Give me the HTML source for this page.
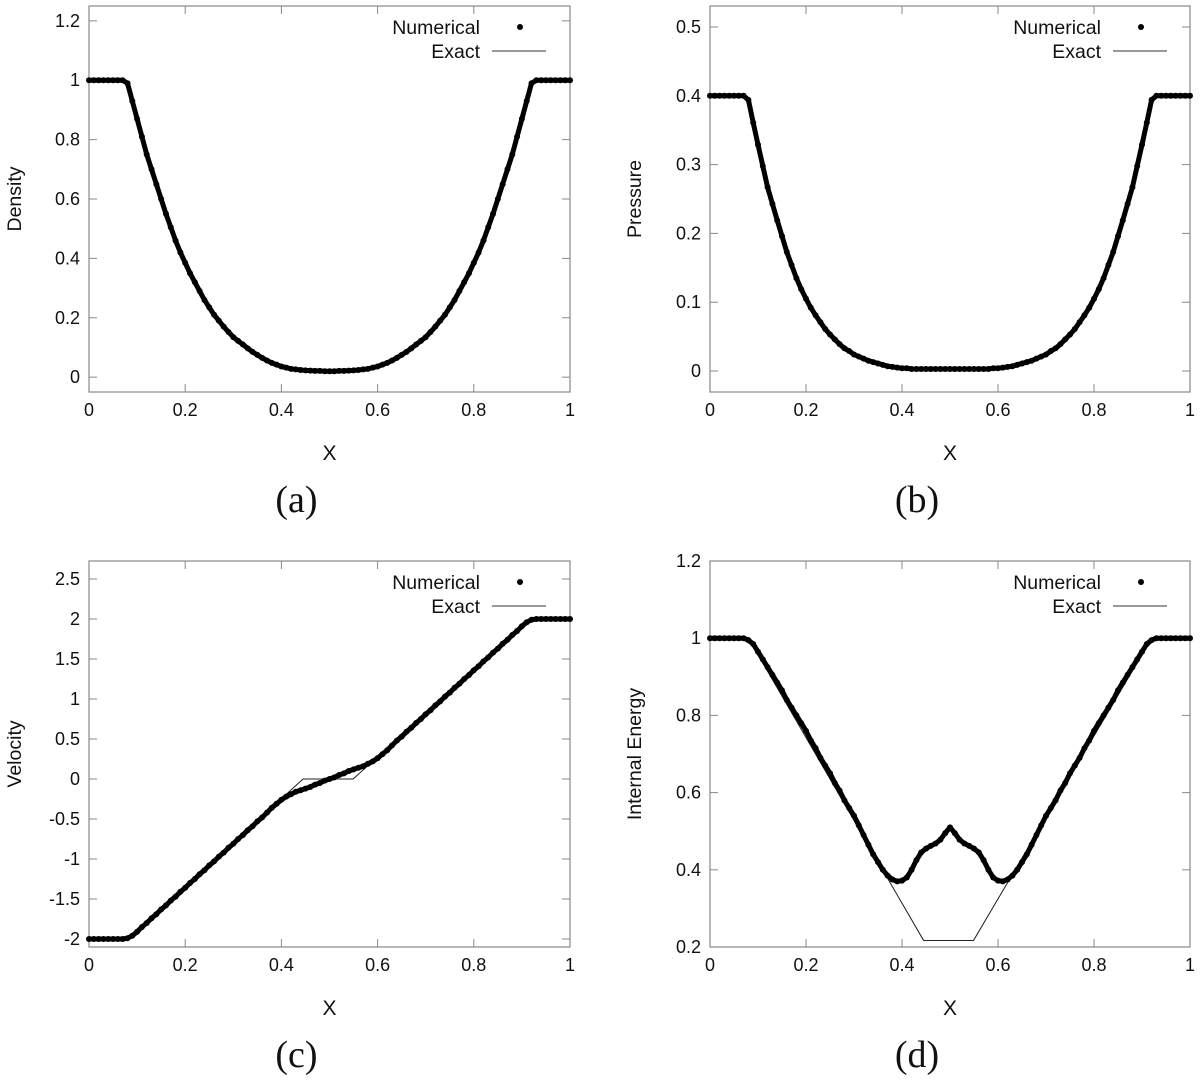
<!DOCTYPE html>
<html><head><meta charset="utf-8"><style>
body{margin:0;background:#fff;}
svg{display:block;font-family:"Liberation Sans","DejaVu Sans",sans-serif;}
</style></head><body>
<svg id="fig" width="1200" height="1092" viewBox="0 0 1200 1092" xmlns="http://www.w3.org/2000/svg"></svg>
<script>
const xGrid = [];
for (let i = 0; i <= 100; i++) xGrid.push(i / 100);
const densityValues = [1,1,1,1,1,1,1,1,
.99,.93,.87,.81,.75,.70,.65,.60,.55,.505,.46,.42,.385,.35,.32,.29,.26,.235,.21,.19,.17,.152,.135,.122,.11,.097,.085,.075,.065,.056,.048,.042,.036,.032,.028,.026,.024,.023,.022,.021,.021,.02,.02,
.02,.021,.021,.022,.023,.024,.026,.028,.032,.036,.042,.048,.056,.065,.075,.085,.097,.11,.122,.135,.152,.17,.19,.21,.235,.26,.29,.32,.35,.385,.42,.46,.505,.55,.60,.65,.70,.75,.81,.87,.93,.99,
1,1,1,1,1,1,1,1];
const pressureValues = [.4,.4,.4,.4,.4,.4,.4,.4,
.394,.361,.329,.298,.267,.243,.219,.196,.173,.154,.135,.119,.105,.092,.081,.071,.061,.053,.046,.039,.033,.029,.024,.021,.018,.015,.013,.011,.009,.007,.006,.005,.004,.004,.003,.003,.003,.003,.003,.003,.003,.003,.003,
.003,.003,.003,.003,.003,.003,.003,.003,.004,.004,.005,.006,.007,.009,.011,.013,.015,.018,.021,.024,.029,.033,.039,.046,.053,.061,.071,.081,.092,.105,.119,.135,.154,.173,.196,.219,.243,.267,.298,.329,.361,.394,
.4,.4,.4,.4,.4,.4,.4,.4];
const velocityValues = [-2,-2,-2,-2,-2,-2,-2,-2,
-1.99,-1.96,-1.91,-1.85,-1.80,-1.74,-1.69,-1.63,-1.58,-1.52,-1.47,-1.41,-1.36,-1.30,-1.25,-1.19,-1.14,-1.08,-1.03,-0.97,-0.92,-0.86,-0.81,-0.75,-0.70,-0.64,-0.59,-0.53,-0.48,-0.42,-0.36,-0.31,-0.26,-0.22,-0.19,-0.16,-0.14,-0.12,-0.10,-0.07,-0.05,-0.02,0,
0.02,0.05,0.07,0.10,0.12,0.14,0.16,0.19,0.22,0.26,0.31,0.36,0.42,0.48,0.53,0.59,0.64,0.70,0.75,0.81,0.86,0.92,0.97,1.03,1.08,1.14,1.19,1.25,1.30,1.36,1.41,1.47,1.52,1.58,1.63,1.69,1.74,1.80,1.85,1.91,1.96,1.99,
2,2,2,2,2,2,2,2];
const energyValues = [1,1,1,1,1,1,1,1,
.995,.985,.965,.945,.925,.905,.885,.865,.84,.82,.80,.78,.76,.735,.715,.69,.67,.65,.625,.605,.58,.56,.54,.515,.49,.465,.44,.42,.40,.385,.375,.37,.372,.38,.40,.425,.445,.455,.462,.468,.478,.495,.51,
.495,.478,.468,.462,.455,.445,.425,.40,.38,.372,.37,.375,.385,.40,.42,.44,.465,.49,.515,.54,.56,.58,.605,.625,.65,.67,.69,.715,.735,.76,.78,.80,.82,.84,.865,.885,.905,.925,.945,.965,.985,.995,
1,1,1,1,1,1,1,1];
const exactVX = [0,0.08,0.445,0.549,0.92,1];
const exactVY = [-2,-2,0,0,2,2];
const exactEX = [0,0.08,0.445,0.549,0.92,1];
const exactEY = [1,1,0.217,0.217,1,1];
const xTicks = [0,0.2,0.4,0.6,0.8,1];
const xTickLabels = ["0","0.2","0.4","0.6","0.8","1"];
const densTicks = [0,0.2,0.4,0.6,0.8,1,1.2];
const densLabels = ["0","0.2","0.4","0.6","0.8","1","1.2"];
const presTicks = [0,0.1,0.2,0.3,0.4,0.5];
const presLabels = ["0","0.1","0.2","0.3","0.4","0.5"];
const velTicks = [-2,-1.5,-1,-0.5,0,0.5,1,1.5,2,2.5];
const velLabels = ["-2","-1.5","-1","-0.5","0","0.5","1","1.5","2","2.5"];
const enTicks = [0.2,0.4,0.6,0.8,1,1.2];
const enLabels = ["0.2","0.4","0.6","0.8","1","1.2"];

const NS = "http://www.w3.org/2000/svg";
const fig = document.getElementById('fig');
function mk(tag, attrs, parent, text) {
  const e = document.createElementNS(NS, tag);
  for (const k in attrs) e.setAttribute(k, attrs[k]);
  if (text !== undefined) e.textContent = text;
  (parent || fig).appendChild(e);
  return e;
}
function panel(p) {
  const g = mk('g', {});
  
  
  const L = p.L, R = p.R, T = p.T, B = p.B;
  const sx = v => L + (v - 0) / (1 - 0) * (R - L);
  const sy = v => B - (v - p.ymin) / (p.ymax - p.ymin) * (B - T);
  xTicks.forEach((t, i) => {
    const X = sx(t);
    mk('line', {x1: X, y1: B, x2: X, y2: B - 8, stroke: '#888', 'stroke-width': 1}, g);
    mk('line', {x1: X, y1: T, x2: X, y2: T + 8, stroke: '#888', 'stroke-width': 1}, g);
    const tl = mk('text', {x: X, y: B + 24, 'font-size': 18, 'text-anchor': 'middle', fill: '#111'}, g, xTickLabels[i]);
    
    
  });
  p.yt.forEach((t, i) => {
    const Y = sy(t);
    mk('line', {x1: L, y1: Y, x2: L + 8, y2: Y, stroke: '#888', 'stroke-width': 1}, g);
    mk('line', {x1: R, y1: Y, x2: R - 8, y2: Y, stroke: '#888', 'stroke-width': 1}, g);
    const tl = mk('text', {x: L - 9, y: Y + 6, 'font-size': 18, 'text-anchor': 'end', fill: '#111'}, g, p.yl[i]);
    
    
  });
  const fr = mk('rect', {x: L, y: T, width: R - L, height: B - T, fill: 'none', stroke: '#888', 'stroke-width': 1.2}, g);
  
  
  const ex = p.exX ? p.exX.map((v, i) => sx(v) + ',' + sy(p.exY[i])).join(' ')
                   : xGrid.map((v, i) => sx(v) + ',' + sy(p.vals[i])).join(' ');
  const el = mk('polyline', {points: ex, fill: 'none', stroke: '#222', 'stroke-width': 1}, g);
  
  
  const np = xGrid.map((v, i) => sx(v) + ',' + sy(p.vals[i])).join(' ');
  const nl = mk('polyline', {points: np, fill: 'none', stroke: '#000', 'stroke-width': 5, 'stroke-linejoin': 'round'}, g);
  
  
  xGrid.forEach((v, i) => {
    const c = mk('circle', {cx: sx(v), cy: sy(p.vals[i]), r: 3, fill: '#000'}, g);
    
    
  });
  const lg = mk('g', {}, g);
  
  
  mk('text', {x: L + 391, y: T + 28, 'font-size': 19.5, 'text-anchor': 'end', fill: '#111'}, lg, 'Numerical');
  mk('circle', {cx: L + 431, cy: T + 21, r: 3, fill: '#000'}, lg);
  mk('text', {x: L + 391, y: T + 52, 'font-size': 19.5, 'text-anchor': 'end', fill: '#111'}, lg, 'Exact');
  mk('line', {x1: L + 403, y1: T + 45, x2: L + 457, y2: T + 45, stroke: '#333', 'stroke-width': 1}, lg);
  const xt = mk('text', {x: (L + R) / 2, y: B + 68, 'font-size': 21, 'text-anchor': 'middle', fill: '#111'}, g, 'X');
  
  
  const yc = (T + B) / 2;
  const yt = mk('text', {x: p.ylx, y: yc, 'font-size': 19.5, 'text-anchor': 'middle', fill: '#111', transform: 'rotate(-90 ' + p.ylx + ' ' + yc + ')'}, g, p.ytitle);
  
  
  const cap = mk('text', {x: (L + R) / 2 - 33, y: B + 120, 'font-size': 38, 'text-anchor': 'middle', fill: '#111', 'font-family': '"Liberation Serif", serif'}, g, p.cap);
  
  
}
panel({name: 'density-panel', L: 89, R: 570, T: 6, B: 392, ymin: -0.05, ymax: 1.25, yt: densTicks, yl: densLabels, vals: densityValues, ytitle: 'Density', ylx: 21, cap: '(a)'});
panel({name: 'pressure-panel', L: 710, R: 1190, T: 6, B: 392, ymin: -0.0305, ymax: 0.5305, yt: presTicks, yl: presLabels, vals: pressureValues, ytitle: 'Pressure', ylx: 641, cap: '(b)'});
panel({name: 'velocity-panel', L: 89, R: 570, T: 561, B: 947, ymin: -2.1, ymax: 2.725, yt: velTicks, yl: velLabels, vals: velocityValues, exX: exactVX, exY: exactVY, ytitle: 'Velocity', ylx: 21, cap: '(c)'});
panel({name: 'energy-panel', L: 710, R: 1190, T: 561, B: 947, ymin: 0.2, ymax: 1.2, yt: enTicks, yl: enLabels, vals: energyValues, exX: exactEX, exY: exactEY, ytitle: 'Internal Energy', ylx: 641, cap: '(d)'});
</script>
</body></html>
